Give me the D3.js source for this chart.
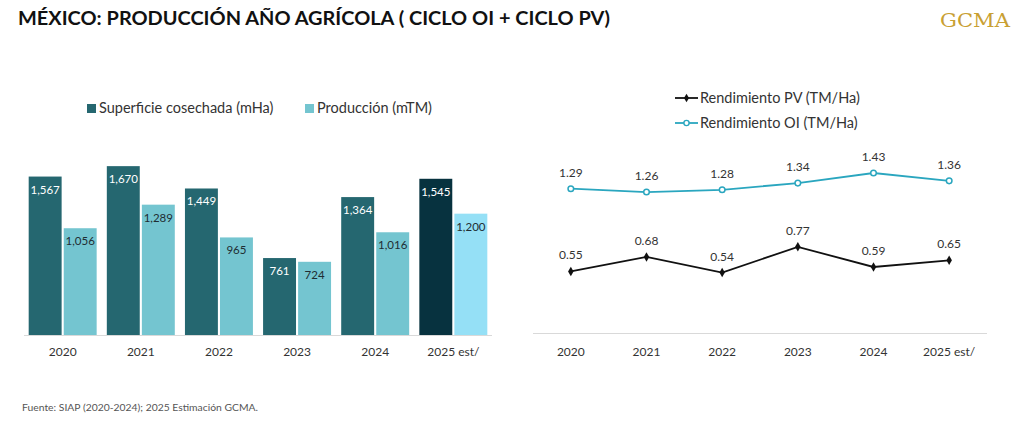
<!DOCTYPE html>
<html lang="es">
<head>
<meta charset="UTF-8">
<title>México producción</title>
<script src="https://d3js.org/d3.v7.min.js"></script>
<style>
  body { margin: 0; background: #fff; }
  svg text { font-family: Lato, "Open Sans", sans-serif; }
</style>
</head>
<body>
<svg width="1024" height="424"></svg>
<script>
const years = ["2020", "2021", "2022", "2023", "2024", "2025 est/"];
const superficie = [1567, 1670, 1449, 761, 1364, 1545];
const produccion = [1056, 1289, 965, 724, 1016, 1200];
const rendPV = [0.55, 0.68, 0.54, 0.77, 0.59, 0.65];
const rendOI = [1.29, 1.26, 1.28, 1.34, 1.43, 1.36];

const svg = d3.select("svg");
const fmt = d3.format(",");

// title + logo + source
svg.append("text").attr("x", 18).attr("y", 25)
  .attr("font-size", 19).attr("font-weight", "bold").attr("fill", "#111")
  .attr("textLength", 592).attr("lengthAdjust", "spacingAndGlyphs")
  .text("MÉXICO: PRODUCCIÓN AÑO AGRÍCOLA ( CICLO OI + CICLO PV)");
svg.append("text").attr("x", 940).attr("y", 27)
  .style("font-family", "'DejaVu Serif', 'Liberation Serif', serif")
  .attr("font-size", 19).attr("fill", "#c9a033")
  .attr("textLength", 70).attr("lengthAdjust", "spacingAndGlyphs")
  .text("GCMA");
svg.append("text").attr("x", 22).attr("y", 411)
  .attr("font-size", 10).attr("fill", "#555")
  .attr("textLength", 236).attr("lengthAdjust", "spacingAndGlyphs")
  .text("Fuente: SIAP (2020-2024); 2025 Estimación GCMA.");

// ---- bar chart ----
const x0 = d3.scaleBand().domain(years).range([24, 492]).paddingInner(0.13).paddingOuter(0.06);
const x1 = d3.scaleBand().domain(["s", "p"]).range([0, x0.bandwidth()]).paddingInner(0.06);
const yb = d3.scaleLinear().domain([0, 1800]).range([335, 153]);

const colS = (d, i) => i === 5 ? "#07323f" : "#256770";
const colP = (d, i) => i === 5 ? "#95e0f6" : "#74c5d0";

const gb = svg.append("g");
gb.append("line").attr("x1", 24).attr("x2", 492).attr("y1", 335.5).attr("y2", 335.5)
  .attr("stroke", "#d9d9d9");

gb.selectAll(".bs").data(superficie).join("rect")
  .attr("x", (d, i) => x0(years[i]) + x1("s")).attr("width", x1.bandwidth())
  .attr("y", d => yb(d)).attr("height", d => yb(0) - yb(d)).attr("fill", colS);
gb.selectAll(".bp").data(produccion).join("rect")
  .attr("class", "bp")
  .attr("x", (d, i) => x0(years[i]) + x1("p")).attr("width", x1.bandwidth())
  .attr("y", d => yb(d)).attr("height", d => yb(0) - yb(d)).attr("fill", colP);

gb.selectAll(".ls").data(superficie).join("text")
  .attr("class", "ls")
  .attr("x", (d, i) => x0(years[i]) + x1("s") + x1.bandwidth() / 2)
  .attr("y", d => yb(d) + 17).attr("text-anchor", "middle")
  .attr("font-size", 11.5).attr("fill", "#fff").text(d => fmt(d));
gb.selectAll(".lp").data(produccion).join("text")
  .attr("class", "lp")
  .attr("x", (d, i) => x0(years[i]) + x1("p") + x1.bandwidth() / 2)
  .attr("y", d => yb(d) + 17).attr("text-anchor", "middle")
  .attr("font-size", 11.5).attr("fill", "#1f2d33").text(d => fmt(d));

const axB = gb.append("g").attr("transform", "translate(0,335)")
  .call(d3.axisBottom(x0).tickSize(0).tickPadding(12));
axB.select(".domain").remove();
axB.selectAll("text").attr("font-size", 12).attr("fill", "#333")
  .style("font-family", "Lato, 'Open Sans', sans-serif");

// bar legend
const legB = [["Superficie cosechada (mHa)", "#256770", 87], ["Producción (mTM)", "#74c5d0", 305]];
legB.forEach(([t, c, x]) => {
  gb.append("rect").attr("x", x).attr("y", 104).attr("width", 9).attr("height", 9).attr("fill", c);
  gb.append("text").attr("x", x + 12).attr("y", 113).attr("font-size", 14.5).attr("fill", "#333").text(t);
});

// ---- line chart ----
const xl = d3.scaleBand().domain(years).range([533, 987]);
const cx = d => xl(d) + xl.bandwidth() / 2;
const yl = d3.scaleLinear().domain([0, 1.6]).range([333, 154]);
const gl = svg.append("g");

gl.append("line").attr("x1", 533).attr("x2", 987).attr("y1", 333.5).attr("y2", 333.5)
  .attr("stroke", "#d9d9d9");

const line = d3.line().x((d, i) => cx(years[i])).y(d => yl(d));

gl.append("path").datum(rendPV).attr("d", line).attr("fill", "none")
  .attr("stroke", "#111").attr("stroke-width", 1.8);
gl.selectAll(".mpv").data(rendPV).join("path").attr("class", "mpv")
  .attr("d", d3.symbol(d3.symbolDiamond, 26))
  .attr("transform", (d, i) => `translate(${cx(years[i])},${yl(d)})`).attr("fill", "#111");

gl.append("path").datum(rendOI).attr("d", line).attr("fill", "none")
  .attr("stroke", "#2aa6bf").attr("stroke-width", 1.8);
gl.selectAll(".moi").data(rendOI).join("circle").attr("class", "moi")
  .attr("cx", (d, i) => cx(years[i])).attr("cy", d => yl(d)).attr("r", 2.8)
  .attr("fill", "#fff").attr("stroke", "#2aa6bf").attr("stroke-width", 1.5);

[rendPV, rendOI].forEach((arr, k) => {
  gl.selectAll(".lab" + k).data(arr).join("text").attr("class", "lab" + k)
    .attr("x", (d, i) => cx(years[i])).attr("y", d => yl(d) - 12)
    .attr("text-anchor", "middle").attr("font-size", 12).attr("fill", "#333")
    .text(d => d.toFixed(2));
});

const axL = gl.append("g").attr("transform", "translate(0,333)")
  .call(d3.axisBottom(xl).tickSize(0).tickPadding(14));
axL.select(".domain").remove();
axL.selectAll("text").attr("font-size", 12).attr("fill", "#333")
  .style("font-family", "Lato, 'Open Sans', sans-serif");

// line legend
const lg1 = gl.append("g");
lg1.append("line").attr("x1", 675).attr("x2", 698).attr("y1", 98).attr("y2", 98).attr("stroke", "#111").attr("stroke-width", 1.8);
lg1.append("path").attr("d", d3.symbol(d3.symbolDiamond, 22)).attr("transform", "translate(686.5,98)").attr("fill", "#111");
lg1.append("text").attr("x", 700).attr("y", 103).attr("font-size", 14.5).attr("fill", "#333").text("Rendimiento PV (TM/Ha)");
lg1.append("line").attr("x1", 675).attr("x2", 698).attr("y1", 123).attr("y2", 123).attr("stroke", "#2aa6bf").attr("stroke-width", 1.8);
lg1.append("circle").attr("cx", 686.5).attr("cy", 123).attr("r", 2.6).attr("fill", "#fff").attr("stroke", "#2aa6bf").attr("stroke-width", 1.4);
lg1.append("text").attr("x", 700).attr("y", 128).attr("font-size", 14.5).attr("fill", "#333").text("Rendimiento OI (TM/Ha)");
</script>
</body>
</html>
